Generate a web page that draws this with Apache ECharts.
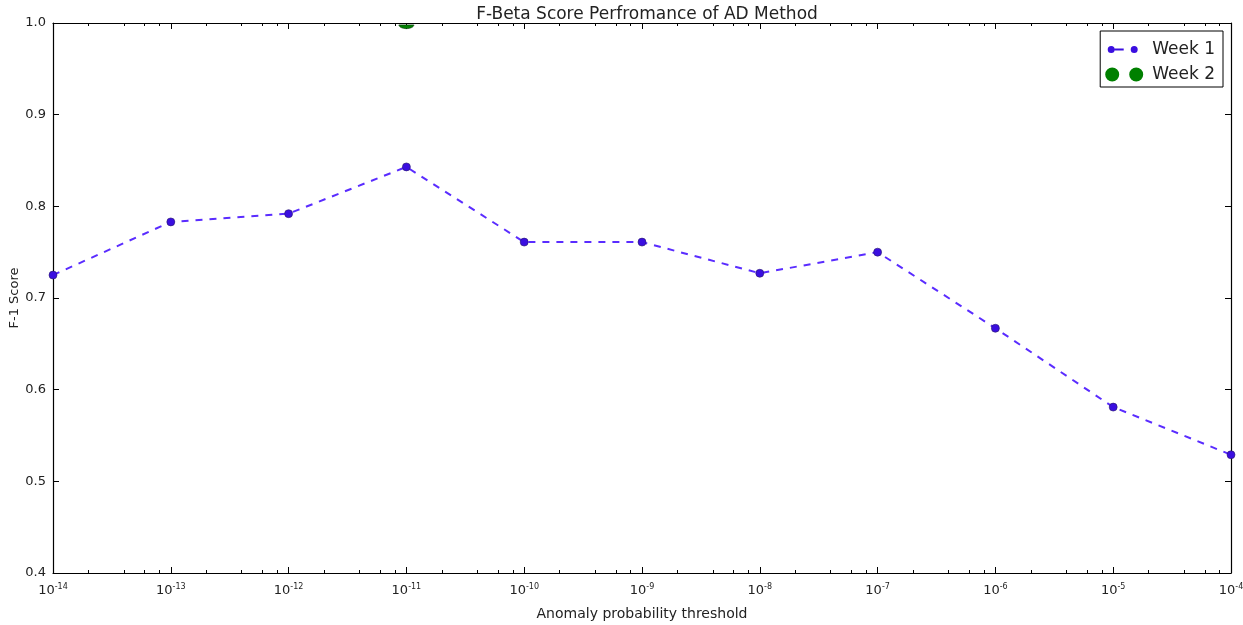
<!DOCTYPE html>
<html>
<head>
<meta charset="utf-8">
<title>F-Beta Score Perfromance of AD Method</title>
<script src="https://cdn.jsdelivr.net/npm/echarts@6/dist/echarts.min.js"></script>
<style>
  html, body { margin: 0; padding: 0; background: #fff; }
  #chart { width: 1243px; height: 625px; }
</style>
</head>
<body>
<div id="chart"></div>
<script>
// Anomaly probability thresholds (10^-14 ... 10^-4)
const thresholds = [1e-14, 1e-13, 1e-12, 1e-11, 1e-10, 1e-9, 1e-8, 1e-7, 1e-6, 1e-5, 1e-4];
// F-1 scores for week 1 at each threshold
const week1Scores = [0.725, 0.783, 0.792, 0.843, 0.761, 0.761, 0.727, 0.750, 0.667, 0.581, 0.529];
// Week 2 was only evaluated at one threshold
const week2Thresholds = [1e-11];
const week2Scores = [1.0];
// Y axis tick values
const yTicks = [0.4, 0.5, 0.6, 0.7, 0.8, 0.9, 1.0];

// minor ticks at 2, 4, 6, 8 x 10^n
const minorTicks = [];
for (let e = -14; e < -4; e++) {
  [2, 4, 6, 8].forEach(k => minorTicks.push(k * Math.pow(10, e)));
}

// lower half of a disc (the marker is cut by the top of the frame)
function halfDiscPath(r, steps) {
  let d = 'path://M' + (2 * r) + ',0';
  for (let i = 1; i <= steps; i++) {
    const a = Math.PI * i / steps;
    d += ' L' + (r + r * Math.cos(a)).toFixed(3) + ',' + (r * Math.sin(a)).toFixed(3);
  }
  return d + ' Z';
}

const FONT = 'DejaVu Sans';
const INK = '#222';

function expLabel(v) {
  const e = Math.round(Math.log10(v));
  return '{b|10}{s|' + e + '}';
}

const chart = echarts.init(document.getElementById('chart'), null, { renderer: 'canvas' });

const baseX = {
  type: 'log',
  logBase: 10,
  min: thresholds[0],
  max: thresholds[thresholds.length - 1],
  splitLine: { show: false },
  axisLine: { show: true, onZero: false, lineStyle: { color: '#000', width: 1.2 } },
  axisTick: { show: true, inside: true, length: 6, lineStyle: { color: '#000' }, customValues: thresholds },
  axisLabel: { show: false },
  minorTick: { show: false }
};

const minorX = Object.assign({}, baseX, {
  axisLine: { show: false },
  axisTick: { show: true, inside: true, length: 3, lineStyle: { color: '#000' }, customValues: minorTicks }
});

chart.setOption({
  animation: false,
  backgroundColor: '#fff',
  title: {
    text: 'F-Beta Score Perfromance of AD Method',
    left: 642,
    textAlign: 'center',
    top: 1,
    textStyle: { fontFamily: FONT, fontSize: 17, fontWeight: 'normal', color: INK }
  },
  legend: {
    orient: 'vertical',
    right: 20,
    top: 31,
    padding: [10, 8, 4, 5],
    itemWidth: 38,
    itemHeight: 14,
    itemGap: 8,
    borderColor: '#000',
    borderWidth: 1,
    borderRadius: 0,
    backgroundColor: '#fff',
    textStyle: { fontFamily: FONT, fontSize: 17, color: INK, padding: [0, 0, 0, 4] },
    data: [
      {
        name: 'Week 1',
        icon: 'path://M2.5,3.5 a3.5,3.5 0 1,0 7,0 a3.5,3.5 0 1,0 -7,0 Z M25.5,3.5 a3.5,3.5 0 1,0 7,0 a3.5,3.5 0 1,0 -7,0 Z M9.5,2.6 h9 v1.8 h-9 Z M0,3.5 h38 v0.01 h-38 Z',
        itemStyle: { borderWidth: 0, color: '#3a0ee0', opacity: 1 }
      },
      {
        name: 'Week 2',
        icon: 'path://M0,7 a7,7 0 1,0 14,0 a7,7 0 1,0 -14,0 Z M24,7 a7,7 0 1,0 14,0 a7,7 0 1,0 -14,0 Z',
        itemStyle: { borderWidth: 0, color: '#008000', opacity: 1 }
      }
    ]
  },
  grid: { left: 53, right: 12, top: 23, bottom: 52, containLabel: false, outerBoundsMode: 'none' },
  xAxis: [
    Object.assign({}, baseX, {
      position: 'bottom',
      name: 'Anomaly probability threshold',
      nameLocation: 'middle',
      nameGap: 34,
      nameMoveOverlap: false,
      nameTextStyle: { fontFamily: FONT, fontSize: 14, color: INK },
      axisLabel: {
        show: true,
        margin: 10,
        customValues: thresholds,
        formatter: expLabel,
        rich: {
          b: { fontFamily: FONT, fontSize: 13, color: INK },
          s: { fontFamily: FONT, fontSize: 8, color: INK, verticalAlign: 'top', padding: [0, 0, 7, 0] }
        }
      }
    }),
    Object.assign({}, minorX, { position: 'bottom' }),
    Object.assign({}, baseX, { position: 'top' }),
    Object.assign({}, minorX, { position: 'top' })
  ],
  yAxis: [
    {
      type: 'value',
      position: 'left',
      min: yTicks[0],
      max: yTicks[yTicks.length - 1],
      interval: 0.1,
      splitLine: { show: false },
      axisLine: { show: true, onZero: false, lineStyle: { color: '#000', width: 1.2 } },
      axisTick: { show: true, inside: true, length: 6, lineStyle: { color: '#000' } },
      axisLabel: {
        margin: 7,
        fontFamily: FONT,
        fontSize: 13,
        color: INK,
        formatter: v => v.toFixed(1)
      },
      name: 'F-1 Score',
      nameLocation: 'middle',
      nameGap: 32,
      nameMoveOverlap: false,
      nameRotate: 90,
      nameTextStyle: { fontFamily: FONT, fontSize: 13, color: INK }
    },
    {
      type: 'value',
      position: 'right',
      min: yTicks[0],
      max: yTicks[yTicks.length - 1],
      interval: 0.1,
      splitLine: { show: false },
      axisLine: { show: true, onZero: false, lineStyle: { color: '#000', width: 1.2 } },
      axisTick: { show: true, inside: true, length: 6, lineStyle: { color: '#000' } },
      axisLabel: { show: false }
    }
  ],
  series: [
    {
      name: 'Week 1',
      type: 'line',
      xAxisIndex: 0,
      yAxisIndex: 0,
      data: thresholds.map((t, i) => [t, week1Scores[i]]),
      symbol: 'circle',
      symbolSize: 8,
      showAllSymbol: true,
      clip: false,
      lineStyle: { color: '#5a2cff', width: 2, type: [7, 7] },
      itemStyle: { color: '#3a0ee0', borderColor: '#2a1a6a', borderWidth: 0.6 },
      emphasis: { disabled: true },
      z: 3
    },
    {
      name: 'Week 2',
      type: 'scatter',
      xAxisIndex: 0,
      yAxisIndex: 0,
      data: week2Thresholds.map((t, i) => [t, week2Scores[i]]),
      symbol: halfDiscPath(7, 16),
      symbolSize: [15, 7.5],
      symbolOffset: [0, 3.75],
      symbolKeepAspect: true,
      itemStyle: { color: '#008000', opacity: 1, borderColor: '#0a3a0a', borderWidth: 0.6 },
      emphasis: { disabled: true },
      z: 4
    }
  ]
});
</script>
</body>
</html>
